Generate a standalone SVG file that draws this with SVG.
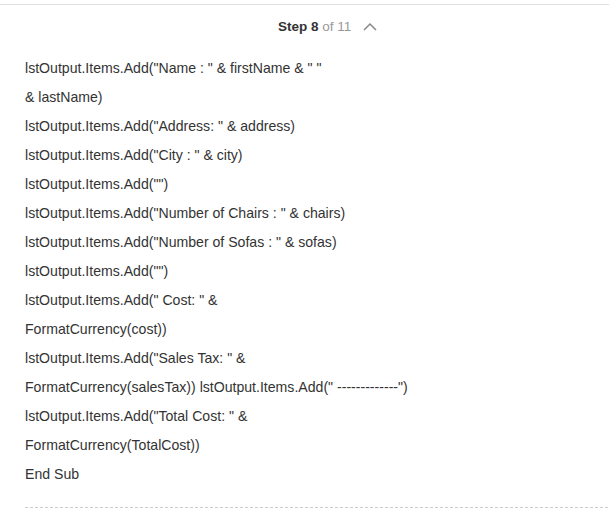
<svg xmlns="http://www.w3.org/2000/svg" width="609" height="521" viewBox="0 0 609 521">
<style>
.t{font-family:"Liberation Sans",Arial,sans-serif;font-size:14.1px;fill:#333}
</style>
<rect width="609" height="521" fill="#fff"/>
<line x1="0" y1="4.5" x2="609" y2="4.5" stroke="#e0e0e0" stroke-width="1"/>
<g id="header">
<text x="278" y="31" font-family="Liberation Sans,Arial,sans-serif" font-size="13.5" font-weight="bold" fill="#333">Step 8 <tspan font-weight="normal" fill="#999">of 11</tspan></text>
<polyline points="364,30 370,24 376,30" fill="none" stroke="#888" stroke-width="1.5"/>
</g>
<g id="code" class="t">
<text class="t" x="25" y="73">lstOutput.Items.Add("Name : " &amp; firstName &amp; " "</text>
<text class="t" x="25" y="102">&amp; lastName)</text>
<text class="t" x="25" y="131">lstOutput.Items.Add("Address: " &amp; address)</text>
<text class="t" x="25" y="160">lstOutput.Items.Add("City : " &amp; city)</text>
<text class="t" x="25" y="189">lstOutput.Items.Add("")</text>
<text class="t" x="25" y="218">lstOutput.Items.Add("Number of Chairs : " &amp; chairs)</text>
<text class="t" x="25" y="247">lstOutput.Items.Add("Number of Sofas : " &amp; sofas)</text>
<text class="t" x="25" y="276">lstOutput.Items.Add("")</text>
<text class="t" x="25" y="305">lstOutput.Items.Add(" Cost: " &amp;</text>
<text class="t" x="25" y="334">FormatCurrency(cost))</text>
<text class="t" x="25" y="363">lstOutput.Items.Add("Sales Tax: " &amp;</text>
<text class="t" x="25" y="392">FormatCurrency(salesTax)) lstOutput.Items.Add(" -------------")</text>
<text class="t" x="25" y="421">lstOutput.Items.Add("Total Cost: " &amp;</text>
<text class="t" x="25" y="450">FormatCurrency(TotalCost))</text>
<text class="t" x="25" y="479">End Sub</text>
</g>
<line x1="25" y1="507.5" x2="609" y2="507.5" stroke="#ccc" stroke-width="1" stroke-dasharray="3,2"/>
</svg>
